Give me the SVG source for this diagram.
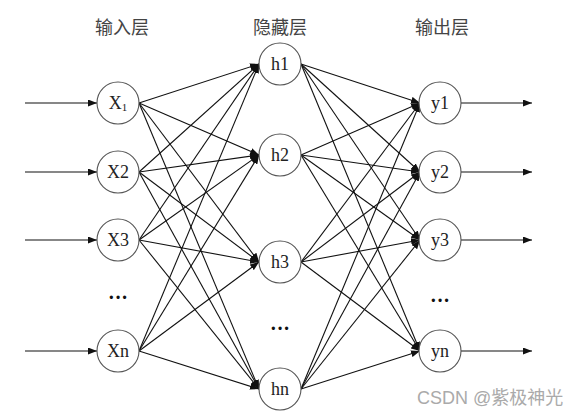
<svg xmlns="http://www.w3.org/2000/svg" width="583" height="415" viewBox="0 0 583 415">
<style>
.node circle{fill:#fff;stroke:#555;stroke-width:1.1}
.lbl{font-family:"Liberation Serif","Noto Sans CJK SC",serif;font-size:18px;fill:#222;text-anchor:middle}
.title{font-family:"Liberation Serif","Noto Sans CJK SC",serif;font-size:18px;fill:#444;text-anchor:middle}
.dots{font-family:"Liberation Serif",serif;font-size:20px;font-weight:bold;fill:#111;text-anchor:middle}
.edges line{stroke:#111;stroke-width:1.1;marker-end:url(#arr)}
.wm{font-family:"Liberation Sans","Noto Sans CJK SC",sans-serif;font-size:18px;fill:#aaa}
</style>
<defs>
<marker id="arr" markerUnits="userSpaceOnUse" markerWidth="9" markerHeight="7" refX="9" refY="3.5" orient="auto">
<path d="M0,0 L9,3.5 L0,7 z" fill="#111"/>
</marker>
</defs>
<rect width="583" height="415" fill="#fff"/>
<text class="title" x="122" y="34">输入层</text>
<text class="title" x="280" y="34">隐藏层</text>
<text class="title" x="442" y="34">输出层</text>
<g class="edges">
<line x1="25" y1="103" x2="97" y2="103"/>
<line x1="25" y1="172" x2="97" y2="172"/>
<line x1="25" y1="240" x2="97" y2="240"/>
<line x1="25" y1="351" x2="97" y2="351"/>
<line x1="139" y1="103" x2="259" y2="64"/>
<line x1="139" y1="103" x2="259" y2="155"/>
<line x1="139" y1="103" x2="259" y2="262"/>
<line x1="139" y1="103" x2="259" y2="389"/>
<line x1="139" y1="172" x2="259" y2="64"/>
<line x1="139" y1="172" x2="259" y2="155"/>
<line x1="139" y1="172" x2="259" y2="262"/>
<line x1="139" y1="172" x2="259" y2="389"/>
<line x1="139" y1="240" x2="259" y2="64"/>
<line x1="139" y1="240" x2="259" y2="155"/>
<line x1="139" y1="240" x2="259" y2="262"/>
<line x1="139" y1="240" x2="259" y2="389"/>
<line x1="139" y1="351" x2="259" y2="64"/>
<line x1="139" y1="351" x2="259" y2="155"/>
<line x1="139" y1="351" x2="259" y2="262"/>
<line x1="139" y1="351" x2="259" y2="389"/>
<line x1="301" y1="64" x2="420" y2="103"/>
<line x1="301" y1="64" x2="420" y2="172"/>
<line x1="301" y1="64" x2="420" y2="240"/>
<line x1="301" y1="64" x2="420" y2="351"/>
<line x1="301" y1="155" x2="420" y2="103"/>
<line x1="301" y1="155" x2="420" y2="172"/>
<line x1="301" y1="155" x2="420" y2="240"/>
<line x1="301" y1="155" x2="420" y2="351"/>
<line x1="301" y1="262" x2="420" y2="103"/>
<line x1="301" y1="262" x2="420" y2="172"/>
<line x1="301" y1="262" x2="420" y2="240"/>
<line x1="301" y1="262" x2="420" y2="351"/>
<line x1="301" y1="389" x2="420" y2="103"/>
<line x1="301" y1="389" x2="420" y2="172"/>
<line x1="301" y1="389" x2="420" y2="240"/>
<line x1="301" y1="389" x2="420" y2="351"/>
<line x1="461" y1="103" x2="532" y2="103"/>
<line x1="461" y1="172" x2="532" y2="172"/>
<line x1="461" y1="240" x2="532" y2="240"/>
<line x1="461" y1="351" x2="532" y2="351"/>
</g>
<g id="x1" class="node"><circle cx="118" cy="103" r="21"/><text class="lbl" x="118" y="109"><tspan>X</tspan><tspan font-size="11" dy="2">1</tspan></text></g>
<g id="x2" class="node"><circle cx="118" cy="172" r="21"/><text class="lbl" x="118" y="178">X2</text></g>
<g id="x3" class="node"><circle cx="118" cy="240" r="21"/><text class="lbl" x="118" y="246">X3</text></g>
<g id="xn" class="node"><circle cx="118" cy="351" r="21"/><text class="lbl" x="118" y="357">Xn</text></g>
<g id="h1" class="node"><circle cx="280" cy="64" r="21"/><text class="lbl" x="280" y="70">h1</text></g>
<g id="h2" class="node"><circle cx="280" cy="155" r="21"/><text class="lbl" x="280" y="161">h2</text></g>
<g id="h3" class="node"><circle cx="280" cy="262" r="21"/><text class="lbl" x="280" y="268">h3</text></g>
<g id="hn" class="node"><circle cx="280" cy="389" r="21"/><text class="lbl" x="280" y="395">hn</text></g>
<g id="y1" class="node"><circle cx="440" cy="103" r="21"/><text class="lbl" x="440" y="109">y1</text></g>
<g id="y2" class="node"><circle cx="440" cy="172" r="21"/><text class="lbl" x="440" y="178">y2</text></g>
<g id="y3" class="node"><circle cx="440" cy="240" r="21"/><text class="lbl" x="440" y="246">y3</text></g>
<g id="yn" class="node"><circle cx="440" cy="351" r="21"/><text class="lbl" x="440" y="357">yn</text></g>
<text class="dots" x="118" y="304">···</text>
<text class="dots" x="280" y="335">···</text>
<text class="dots" x="440" y="307">···</text>
<text class="wm" x="417" y="404">CSDN @紫极神光</text>
</svg>
